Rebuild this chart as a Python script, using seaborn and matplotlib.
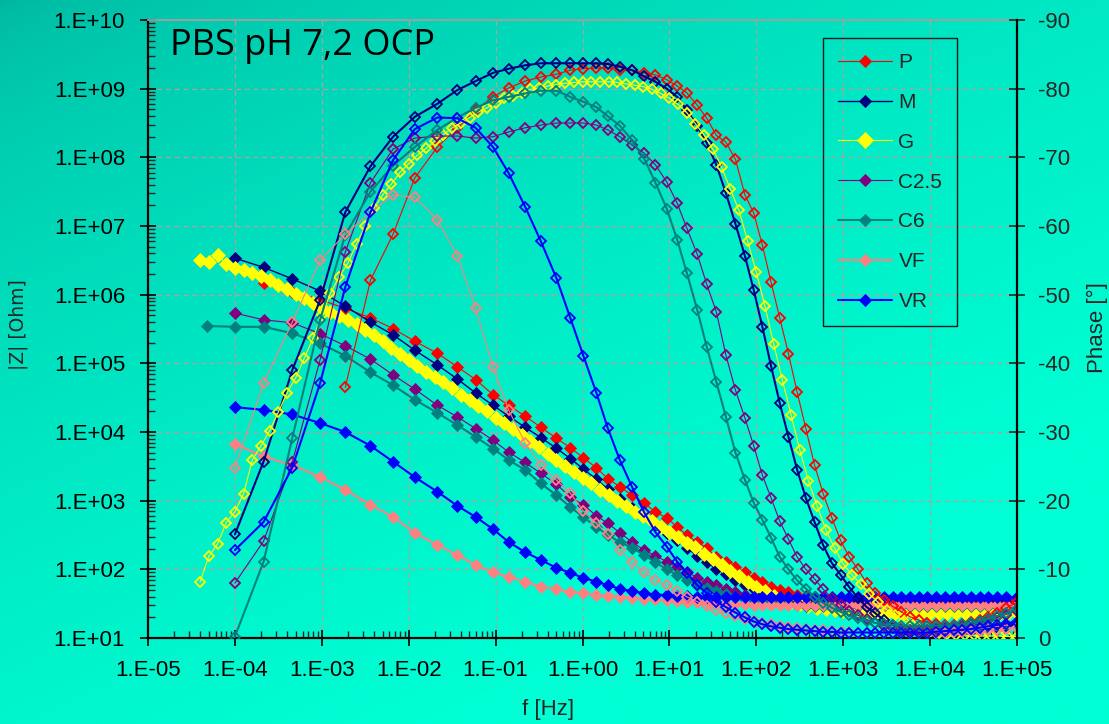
import numpy as np
import matplotlib
matplotlib.use("Agg")
import matplotlib.pyplot as plt
from matplotlib.ticker import LogLocator, FuncFormatter, MultipleLocator, NullLocator, NullFormatter
import seaborn as sns

# ---------------------------------------------------------------- data
# log10 of the measurement frequency [Hz]
LOG_FREQ = [-4.00, -3.67, -3.34, -3.02, -2.73, -2.44, -2.18, -1.93, -1.67, -1.44,
            -1.23, -1.03, -0.85, -0.66, -0.48, -0.30, -0.14, 0.01, 0.16, 0.29,
            0.43, 0.57, 0.71, 0.84, 0.97, 1.09, 1.20, 1.32, 1.43, 1.54,
            1.65, 1.76, 1.87, 1.97, 2.07, 2.17, 2.27, 2.37, 2.47, 2.57,
            2.67, 2.77, 2.87, 2.97, 3.07, 3.17, 3.27, 3.37, 3.47, 3.57,
            3.67, 3.77, 3.87, 3.97, 4.07, 4.17, 4.27, 4.37, 4.47, 4.57,
            4.67, 4.77, 4.87, 5.00]
LOG_FREQ_G = [-4.4, -4.3, -4.2, -4.1, -4.0, -3.9, -3.8, -3.7, -3.6, -3.5,
              -3.4, -3.3, -3.2, -3.1, -3.0, -2.9, -2.8, -2.7, -2.6, -2.5,
              -2.4, -2.3, -2.2, -2.1, -2.0, -1.9, -1.8, -1.7, -1.6, -1.5,
              -1.4, -1.3, -1.2, -1.1, -1.0, -0.9, -0.8, -0.7, -0.6, -0.5,
              -0.4, -0.3, -0.2, -0.1, 0.0, 0.1, 0.2, 0.3, 0.4, 0.5,
              0.6, 0.7, 0.8, 0.9, 1.0, 1.1, 1.2, 1.3, 1.4, 1.5,
              1.6, 1.7, 1.8, 1.9, 2.0, 2.1, 2.2, 2.3, 2.4, 2.5,
              2.6, 2.7, 2.8, 2.9, 3.0, 3.1, 3.2, 3.3, 3.4, 3.5,
              3.6, 3.7, 3.8, 3.9, 4.0, 4.1, 4.2, 4.3, 4.4, 4.5,
              4.6, 4.7, 4.8, 4.9, 5.0]
LOG_FREQ_C6 = [-4.32] + LOG_FREQ

NAN = float("nan")

# |Z| [Ohm]
Z_P = [NAN, 1.48e6, 1.1e6, 8.5e5, 6.3e5, 4.6e5, 3.2e5, 2.1e5, 1.4e5, 8.9e4,
       5.8e4, 3.5e4, 2.45e4, 1.7e4, 1.17e4, 8.1e3, 5.9e3, 4.2e3, 3.0e3, 2.1e3,
       1.6e3, 1.2e3, 930, 680, 560, 415, 315, 250, 205, 150,
       128, 107, 91, 74, 66, 55, 50, 46, 42.5, 40.5,
       39, 38, 37.5, 37, 37, 37, 37, 37, 37, 37,
       37, 37, 37, 37, 37, 37, 37, 37, 37, 37,
       37, 37, 37, 37]
Z_M = [3.4e6, 2.5e6, 1.7e6, 1.13e6, 6.8e5, 4.0e5, 2.6e5, 1.55e5, 9.5e4, 5.9e4,
       3.7e4, 2.45e4, 1.7e4, 1.17e4, 8.3e3, 5.8e3, 4.1e3, 2.9e3, 2.05e3, 1.48e3,
       1.07e3, 790, 590, 445, 340, 263, 204, 158, 126, 102,
       85, 71, 60, 52, 47, 43, 40, 38, 36.5, 35.5,
       35, 34.5, 34, 34, 34, 34, 34, 33.5, 33.5, 33.5,
       33.5, 33.5, 33.5, 33.5, 33.5, 33.5, 33.5, 33.5, 33.5, 33.5,
       33.5, 33.5, 33.5, 33.5]
Z_G = [3.2e6, 3.0e6, 3.8e6, 2.8e6, 2.45e6, 2.3e6, 2.1e6, 1.86e6, 1.62e6, 1.38e6,
       1.2e6, 1.02e6, 8.9e5, 7.6e5, 6.5e5, 5.6e5, 4.9e5, 4.3e5, 3.7e5, 3.1e5,
       2.6e5, 2.1e5, 1.7e5, 1.38e5, 1.12e5, 9.1e4, 7.4e4, 6.3e4, 5.4e4, 4.4e4,
       3.5e4, 2.9e4, 2.4e4, 2.0e4, 1.62e4, 1.35e4, 1.1e4, 8.9e3, 7.4e3, 6.0e3,
       4.8e3, 3.9e3, 3.2e3, 2.6e3, 2.15e3, 1.78e3, 1.45e3, 1.2e3, 980, 830,
       690, 590, 500, 420, 350, 295, 245, 210, 170, 141,
       115, 93, 79, 66, 56, 48, 41, 36, 33, 31,
       29, 27.5, 26.3, 25.7, 25.1, 24.5, 24, 23.5, 23.5, 23.5,
       23.5, 23.5, 23.5, 23.5, 23.5, 23.5, 23.5, 23.5, 23.5, 23.5,
       23.5, 23.5, 23.5, 23.5, 23.5]
Z_C25 = [5.4e5, 4.3e5, 3.9e5, 2.7e5, 1.8e5, 1.15e5, 6.8e4, 4.2e4, 2.45e4, 1.66e4,
         1.12e4, 7.6e3, 5.1e3, 3.6e3, 2.5e3, 1.74e3, 1.12e3, 870, 600, 470,
         340, 250, 190, 158, 129, 107, 91, 76, 66, 59,
         52, 47, 43, 40, 37, 35.5, 34, 33, 32.4, 31.6,
         31, 31, 31, 31, 31, 31, 31, 31, 31, 31,
         31, 31, 31, 31, 31, 31, 31, 31, 31, 31,
         31, 31, 31, 31]
Z_C6 = [3.5e5, 3.4e5, 3.4e5, 2.75e5, 1.95e5, 1.29e5, 7.4e4, 4.8e4, 2.95e4, 1.9e4,
        1.26e4, 8.5e3, 5.75e3, 3.9e3, 2.8e3, 1.78e3, 1.2e3, 810, 575, 415,
        316, 250, 205, 162, 126, 100, 83, 71, 60, 54,
        48, 44, 40, 37, 35.5, 34, 32.4, 31.6, 31, 30.2,
        29.5, 29.5, 29.5, 29.5, 29.5, 29.5, 29.5, 29.5, 29.5, 29.5,
        29.5, 29.5, 29.5, 29.5, 29.5, 29.5, 29.5, 29.5, 29.5, 29.5,
        29.5, 29.5, 29.5, 29.5, 29.5]
Z_VF = [6.7e3, 4.4e3, 3.3e3, 2.2e3, 1.45e3, 870, 580, 340, 225, 162,
        115, 91, 77, 66, 56, 52, 47, 45, 42.5, 41,
        40, 38.5, 37.5, 36.5, 35.5, 34.5, 34, 33.5, 33, 32.5,
        32, 31.5, 31, 30.5, 30.5, 30.5, 30.5, 30, 30, 30,
        30, 30, 30, 30, 30, 30, 30, 30, 30, 30,
        30, 30, 30, 30, 30, 30, 30, 30, 30, 30,
        30, 30, 30, 30]
Z_VR = [2.3e4, 2.1e4, 1.8e4, 1.35e4, 1.0e4, 6.3e3, 3.7e3, 2.2e3, 1.35e3, 840,
        580, 385, 250, 178, 137, 105, 89, 75, 66, 59,
        52, 48, 45, 43, 42, 41, 40.5, 40, 40, 39.5,
        39.5, 39, 39, 39, 39, 39, 39, 39, 39, 39,
        39, 39, 39, 39, 39, 39, 39, 39, 39, 39,
        39, 39, 39, 39, 39, 39, 39, 39, 39, 39,
        39, 39, 39, 39]

# Phase [deg]
PH_P = [NAN, NAN, NAN, NAN, -36.5, -52.1, -58.8, -67.0, -71.5, -74.3,
        -76.9, -78.8, -80.1, -81.1, -81.7, -82.1, -82.7, -82.9, -83.0, -83.0,
        -82.7, -82.7, -82.3, -82.0, -81.3, -80.4, -79.4, -77.6, -75.7, -73.2,
        -72.2, -69.7, -64.5, -61.9, -57.2, -51.8, -46.6, -41.4, -35.8, -30.5,
        -25.2, -21.0, -17.5, -14.2, -11.8, -10.0, -8.0, -6.6, -5.6, -4.6,
        -3.8, -3.1, -2.6, -2.2, -2.0, -1.9, -1.9, -2.1, -2.3, -2.6,
        -3.0, -3.6, -4.3, -5.2]
PH_M = [-15.1, -25.7, -39.0, -49.2, -62.0, -68.7, -73.0, -75.9, -77.8, -79.8,
        -81.1, -82.3, -82.9, -83.4, -83.7, -83.7, -83.7, -83.7, -83.7, -83.6,
        -83.2, -82.7, -81.8, -81.0, -80.0, -78.8, -76.9, -74.6, -72.1, -68.9,
        -64.8, -60.3, -55.6, -50.7, -45.3, -39.6, -34.2, -29.3, -24.5, -20.4,
        -16.9, -13.5, -10.9, -9.2, -7.4, -5.8, -4.5, -3.6, -2.6, -1.9,
        -1.2, -0.9, -0.7, -0.6, -0.6, -0.6, -0.6, -0.7, -0.9, -1.1,
        -1.3, -1.5, -1.8, -2.0]
PH_G = [-8.2, -11.9, -13.7, -16.8, -18.4, -21.0, -25.9, -28.0, -30.2, -32.9,
        -35.7, -37.9, -40.8, -43.7, -47.0, -50.2, -52.6, -54.6, -57.4, -60.0,
        -62.6, -64.5, -66.1, -67.8, -69.1, -70.3, -71.3, -72.4, -73.3, -74.3,
        -75.0, -75.8, -76.6, -77.2, -77.9, -78.6, -79.0, -79.4, -79.9, -80.1,
        -80.4, -80.6, -80.8, -80.9, -81.0, -81.0, -81.0, -81.0, -80.9, -80.7,
        -80.5, -80.3, -79.9, -79.3, -78.6, -77.7, -76.5, -74.9, -73.2, -71.2,
        -68.6, -65.4, -62.3, -57.8, -53.3, -48.3, -42.8, -37.6, -32.5, -27.4,
        -22.9, -19.2, -15.8, -13.1, -10.8, -9.2, -7.9, -6.4, -5.2, -4.1,
        -3.3, -2.5, -1.9, -1.4, -1.0, -0.8, -0.6, -0.5, -0.4, -0.4,
        -0.3, -0.3, -0.3, -0.2, -0.2]
PH_C25 = [-8.0, -14.1, -25.6, -40.5, -56.2, -66.3, -71.2, -72.8, -73.1, -73.1,
          -72.8, -73.0, -73.7, -74.3, -74.7, -75.0, -75.0, -75.0, -74.7, -74.0,
          -73.0, -71.8, -70.6, -68.9, -66.4, -63.3, -59.7, -55.9, -51.5, -47.5,
          -41.2, -36.1, -32.0, -28.0, -23.7, -20.4, -17.0, -14.4, -11.8, -10.0,
          -8.6, -7.1, -5.8, -4.8, -4.0, -3.3, -2.7, -2.2, -1.8, -1.5,
          -1.3, -1.2, -1.2, -1.2, -1.3, -1.4, -1.6, -1.8, -2.0, -2.3,
          -2.6, -3.0, -3.4, -4.0]
PH_C6 = [4.0, -0.2, -11.1, -29.1, -46.3, -58.7, -65.0, -68.8, -71.5, -74.0,
         -75.8, -77.2, -78.3, -78.8, -79.3, -79.7, -79.7, -78.8, -78.1, -77.3,
         -76.0, -74.6, -72.5, -69.8, -66.3, -62.5, -58.0, -53.2, -47.8, -42.4,
         -37.3, -32.2, -27.0, -23.0, -19.7, -17.2, -14.6, -11.8, -10.0, -8.4,
         -7.2, -6.0, -5.1, -4.4, -3.8, -3.3, -2.9, -2.5, -2.2, -2.0,
         -1.9, -1.8, -1.8, -1.8, -1.8, -1.8, -1.8, -1.8, -2.0, -2.2,
         -2.5, -2.8, -3.2, -3.6, -4.2]
PH_VF = [-24.8, -37.1, -46.0, -55.0, -58.8, -62.0, -64.5, -64.2, -60.9, -55.7,
         -48.0, -39.5, -33.2, -28.4, -25.2, -23.0, -21.1, -18.5, -16.7, -15.1,
         -12.8, -11.0, -9.6, -8.4, -7.7, -6.8, -6.0, -5.3, -4.7, -4.1,
         -3.6, -3.2, -2.8, -2.5, -2.2, -2.0, -1.8, -1.6, -1.4, -1.3,
         -1.2, -1.1, -1.0, -0.9, -0.9, -0.8, -0.8, -0.8, -0.8, -0.8,
         -0.8, -0.8, -0.8, -0.8, -0.8, -0.8, -0.9, -0.9, -1.0, -1.0,
         -1.1, -1.2, -1.3, -1.5]
PH_VR = [-12.8, -16.9, -24.8, -37.1, -51.1, -62.0, -69.6, -74.1, -75.8, -75.7,
         -74.3, -71.5, -67.7, -62.8, -57.8, -52.4, -46.6, -41.1, -35.7, -30.6,
         -25.9, -22.0, -18.3, -15.4, -13.3, -11.1, -9.5, -7.7, -6.5, -5.3,
         -4.5, -3.7, -3.0, -2.4, -2.0, -1.7, -1.5, -1.3, -1.2, -1.1,
         -1.0, -0.9, -0.9, -0.8, -0.8, -0.8, -0.8, -0.8, -0.8, -0.8,
         -0.8, -0.8, -0.8, -0.8, -0.9, -1.0, -1.1, -1.2, -1.3, -1.5,
         -1.7, -1.9, -2.1, -2.4]

LABELS = ["P", "M", "G", "C2.5", "C6", "VF", "VR"]
COLORS = ["#FF0000", "#000080", "#FFFF00", "#800080", "#008080", "#FF8080", "#0000FF"]
FREQS = [LOG_FREQ, LOG_FREQ, LOG_FREQ_G, LOG_FREQ, LOG_FREQ_C6, LOG_FREQ, LOG_FREQ]
MODULUS = [Z_P, Z_M, Z_G, Z_C25, Z_C6, Z_VF, Z_VR]
PHASE = [PH_P, PH_M, PH_G, PH_C25, PH_C6, PH_VF, PH_VR]
Z_LW = [0.8, 1.0, 0.8, 0.8, 1.5, 1.5, 1.5]
PH_LW = [0.8, 1.5, 0.8, 0.8, 1.5, 0.8, 1.5]
Z_MS = [6.0, 6.0, 7.5, 6.0, 6.0, 6.0, 6.0]

# ---------------------------------------------------------------- style
sns.set_style("ticks")
plt.rcParams["font.family"] = ["Liberation Sans", "DejaVu Sans"]
plt.rcParams["axes.unicode_minus"] = False

W, H = 1109, 724
fig = plt.figure(figsize=(W / 100, H / 100), dpi=100)

# teal gradient backdrop
bg = fig.add_axes([0, 0, 1, 1], zorder=-5)
gy, gx = np.mgrid[0:240:1, 0:360:1]
t = np.clip(0.55 * gx / 360 + 0.8 * gy / 240, 0, 1) ** 0.6
c0 = np.array([0, 182, 160]) / 255.0
c1 = np.array([0, 255, 212]) / 255.0
bg.imshow(c0 + (c1 - c0) * t[..., None], aspect="auto", extent=[0, 1, 0, 1],
          origin="upper", interpolation="bilinear")
bg.set_axis_off()

ax = fig.add_axes([148 / W, 1 - 638 / H, (1017 - 148) / W, (638 - 20) / H])
ax.patch.set_visible(False)
ax.set_xscale("log")
ax.set_yscale("log")
ax2 = ax.twinx()
ax2.patch.set_visible(False)

# |Z| curves (filled diamonds)
handles = []
for lab, col, lf, z, lw, ms in zip(LABELS, COLORS, FREQS, MODULUS, Z_LW, Z_MS):
    f = 10 ** np.asarray(lf)
    sns.lineplot(x=f, y=np.asarray(z, float), ax=ax, color=col, linewidth=lw,
                 marker="D", markersize=ms, markerfacecolor=col, markeredgecolor=col,
                 markeredgewidth=0.6, estimator=None, sort=False)
    handles.append(ax.lines[-1])

# phase curves (open diamonds)
for lab, col, lf, ph, lw in zip(LABELS, COLORS, FREQS, PHASE, PH_LW):
    f = 10 ** np.asarray(lf)
    sns.lineplot(x=f, y=np.asarray(ph, float), ax=ax2, color=col, linewidth=lw,
                 marker="D", markersize=5.2, markerfacecolor="none", markeredgecolor=col,
                 markeredgewidth=1.3, estimator=None, sort=False)

# ---------------------------------------------------------------- axes
ax.set_xlim(1e-5, 1e5)
ax.set_ylim(10, 1e10)
ax2.set_ylim(0, -90)
ax.set_xlabel("")
ax.set_ylabel("")
ax2.set_ylabel("")

def sci_label(v, pos):
    return "1.E{:+03d}".format(int(round(np.log10(v))))

for axis in (ax.xaxis, ax.yaxis):
    axis.set_major_locator(LogLocator(base=10, numticks=30))
    axis.set_minor_locator(LogLocator(base=10, subs=np.arange(2, 10), numticks=300))
    axis.set_major_formatter(FuncFormatter(sci_label))
    axis.set_minor_formatter(NullFormatter())

ax.tick_params(which="major", direction="inout", length=12, width=1.2,
               labelsize=16, colors="black")
ax.tick_params(axis="y", which="major", pad=10.5)
ax.tick_params(axis="x", which="major", pad=10)
ax.tick_params(which="minor", direction="in", length=5, width=1.0)
ax.tick_params(top=False, right=False, which="both")

ax2.yaxis.set_major_locator(MultipleLocator(10))
ax2.yaxis.set_minor_locator(NullLocator())
ax2.yaxis.set_major_formatter(FuncFormatter(lambda v, p: "{:d}".format(int(round(v)))))
ax2.tick_params(axis="y", which="major", direction="inout", length=12, width=1.2,
                labelsize=16, pad=9)

for s in ("left", "bottom"):
    ax.spines[s].set_color("black")
    ax.spines[s].set_linewidth(1.6)
ax.spines["right"].set_visible(False)
ax.spines["top"].set_color("#A0A0A0")
ax.spines["top"].set_linewidth(1.3)
for s in ("left", "bottom", "top"):
    ax2.spines[s].set_visible(False)
ax2.spines["right"].set_color("black")
ax2.spines["right"].set_linewidth(1.6)

ax.grid(False)
ax.xaxis.grid(True, which="major", color="#A8A4A4", linestyle=(0, (4, 3)), linewidth=0.9)
ax.yaxis.grid(True, which="major", color="#B89CA0", linestyle=(0, (4, 3)), linewidth=0.9)
ax.set_axisbelow(True)

# ---------------------------------------------------------------- text
ax.text(0.025, 0.943, "PBS pH 7,2 OCP", transform=ax.transAxes, fontsize=26,
        family="Open Sans", ha="left", va="baseline", color="black")
fig.text(18 / W, 1 - 325 / H, "|Z| [Ohm]", rotation=90, ha="center", va="center",
         fontsize=13.5, family="DejaVu Sans")
fig.text(1097 / W, 1 - 328 / H, "Phase [°]", rotation=90, ha="center", va="center",
         fontsize=16)
fig.text(548 / W, 1 - 710 / H, "f [Hz]", ha="center", va="center", fontsize=16)

leg = ax2.legend(handles, LABELS, loc="upper left",
                 bbox_to_anchor=(823 / W, 1 - 38 / H), bbox_transform=fig.transFigure,
                 frameon=True, fancybox=False, edgecolor="#1A1A1A", facecolor="none",
                 fontsize=15, handlelength=2.6, handletextpad=0.3, labelspacing=1.0,
                 borderpad=0.72, borderaxespad=0, numpoints=1, markerscale=1.1)
leg.get_frame().set_linewidth(1.0)
leg.get_frame().set_alpha(None)
leg.get_frame().set_facecolor("none")

fig.savefig("out.png", dpi=100)
